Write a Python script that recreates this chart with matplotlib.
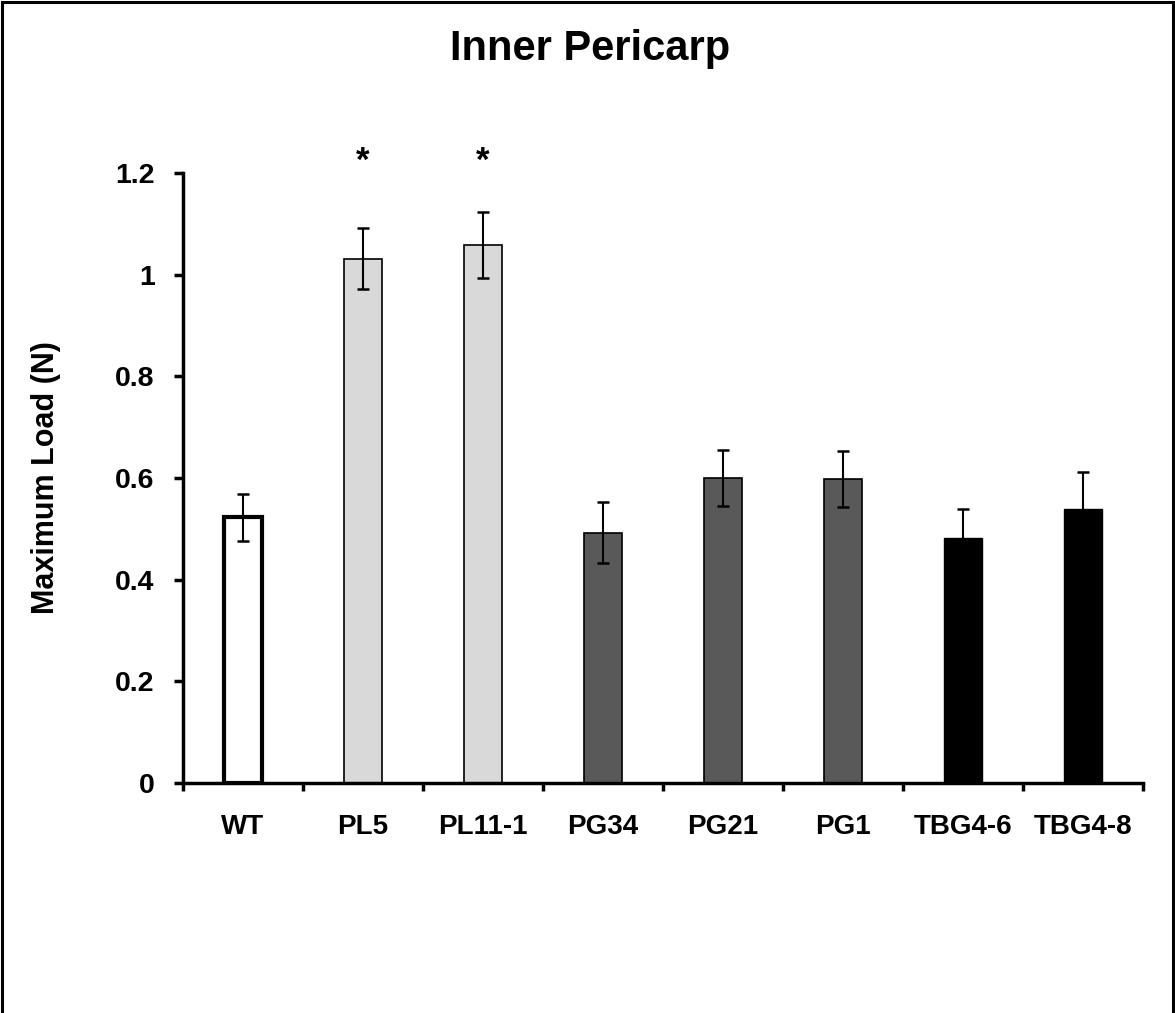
import numpy as np
import matplotlib
matplotlib.use("Agg")
from matplotlib import pyplot as plt
from matplotlib.patches import Rectangle

plt.rcParams['font.family'] = ['Liberation Sans', 'DejaVu Sans']
plt.rcParams['font.weight'] = 'bold'

# ======== Data ========
lines = ['WT', 'PL5', 'PL11-1', 'PG34', 'PG21', 'PG1', 'TBG4-6', 'TBG4-8']
max_load = [0.523, 1.031, 1.059, 0.492, 0.600, 0.598, 0.482, 0.539]
load_err = [0.046, 0.060, 0.065, 0.060, 0.056, 0.056, 0.057, 0.072]
significant = [False, True, True, False, False, False, False, False]
fills = ['white', '#d9d9d9', '#d9d9d9', '#595959', '#595959', '#595959', 'black', 'black']
edge_widths = [3.0, 1.2, 1.2, 1.2, 1.2, 1.2, 1.0, 1.0]
yticks = [0, 0.2, 0.4, 0.6, 0.8, 1.0, 1.2]
ytick_labels = ['0', '0.2', '0.4', '0.6', '0.8', '1', '1.2']

# ======== Figure ========
fig = plt.figure(figsize=(11.75, 10.13), dpi=100)
ax = fig.add_axes([183 / 1175, 1 - 783 / 1013, 960 / 1175, 610 / 1013])

x = np.arange(len(lines))
ax.bar(x, max_load, width=0.32, color=fills, edgecolor='black',
       linewidth=edge_widths, zorder=2)
ax.errorbar(x, max_load, yerr=load_err, fmt='none', ecolor='black',
            elinewidth=1.5, capsize=4.3, capthick=1.8, zorder=3)

# significance stars
for xi, sig in zip(x, significant):
    if sig:
        ax.text(xi, 1.222, '*', ha='center', va='center', fontsize=25,
                fontweight='bold', clip_on=False)

ax.set_xlim(-0.5, len(lines) - 0.5)
ax.set_ylim(0, 1.2)

# axes styling
for side in ['top', 'right']:
    ax.spines[side].set_visible(False)
for side in ['left', 'bottom']:
    ax.spines[side].set_linewidth(2.5)

ax.set_yticks(yticks)
ax.set_yticklabels(ytick_labels)
ax.tick_params(axis='y', direction='out', length=6.5, width=2.5, pad=14,
               labelsize=20.5)

ax.set_xticks(x)
ax.set_xticklabels(lines)
ax.tick_params(axis='x', which='major', length=0, pad=22, labelsize=20)
ax.set_xticks(np.arange(len(lines) + 1) - 0.5, minor=True)
ax.tick_params(axis='x', which='minor', direction='out', length=6, width=2.5)

ax.set_ylabel('Maximum Load (N)', fontsize=22, fontweight='bold', va='center')
ax.yaxis.set_label_coords(-0.143, 0.5)

fig.text(590 / 1175, 1 - 49 / 1013, 'Inner Pericarp', ha='center', va='center',
         fontsize=30, fontweight='bold')

# outer frame (bottom edge falls off the page)
fig.patches.append(Rectangle((0.0015, -0.02), 0.997, 1.018, transform=fig.transFigure,
                             fill=False, edgecolor='black', linewidth=2.2))

fig.savefig('out.png', dpi=100)
